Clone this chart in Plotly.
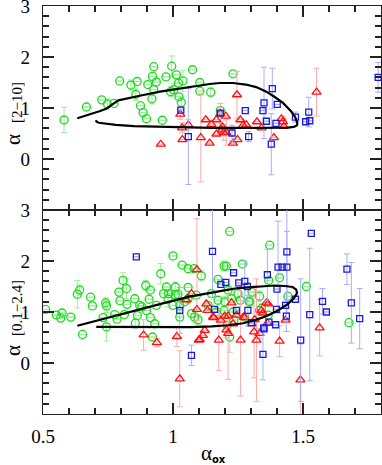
import plotly.graph_objects as go

# ---------------- data: top panel (alpha_[2-10]) ----------------
top_green_x = [0.581, 0.667, 0.726, 0.748, 0.773, 0.795, 0.838, 0.862, 0.857, 0.875, 0.885, 0.898,
               0.903, 0.919, 0.926, 0.936, 0.921, 0.926, 0.959, 0.973, 0.995, 1.013, 0.991, 1.003,
               1.021, 1.023, 1.032, 1.038, 1.075, 1.103, 1.103, 1.145, 1.231, 1.182]
top_green_y = [0.765, 1.02, 1.16, 1.08, 1.09, 1.53, 1.45, 1.52, 1.27, 1.045, 0.91, 0.79,
               1.46, 1.18, 1.36, 1.51, 1.62, 1.81, 0.76, 1.61, 1.82, 1.65, 1.32, 1.36,
               1.49, 1.22, 1.11, 1.53, 1.75, 1.50, 1.33, 1.31, 1.67, 0.95]
top_green_e = [0.25, 0, 0, 0.1, 0, 0, 0.1, 0, 0.12, 0, 0, 0,
               0, 0.1, 0, 0, 0, 0, 0, 0, 0.2, 0, 0.1, 0.12,
               0, 0, 0.1, 0.2, 0, 0, 0, 0.08, 0, 0]

top_red_x = [0.953, 1.028, 1.035, 1.036, 1.059, 1.107, 1.126, 1.141, 1.148, 1.167, 1.167, 1.182,
             1.188, 1.195, 1.203, 1.205, 1.190, 1.231, 1.248, 1.246, 1.259, 1.269, 1.282, 1.323,
             1.341, 1.388, 1.417, 1.423, 1.426, 1.552]
top_red_y = [0.29, 0.88, 0.61, 0.38, 0.67, 0.42, 0.77, 0.31, 0.68, 0.77, 0.49, 0.89,
             0.57, 0.52, 0.84, 0.52, 0.63, 0.31, 0.38, 1.26, 0.77, 0.66, 0.67, 0.73,
             0.61, 0.42, 0.79, 0.73, 0.64, 1.31]
top_red_e = [0, 0.1, 0.1, 0, 0.1, 0.87, 0, 0, 0, 0, 0, 0.2,
             0, 0.15, 0, 0.25, 0, 0, 0, 0.46, 0, 0, 0, 0,
             0, 0, 0, 0.1, 0, 0.47]

top_blue_x = [1.030, 1.059, 1.182, 1.227, 1.278, 1.291, 1.350, 1.346, 1.359, 1.378, 1.382, 1.401,
              1.396, 1.471, 1.510, 1.522, 1.526, 1.789]
top_blue_y = [0.96, 0.44, 0.90, 0.51, 0.95, 0.44, 1.10, 0.95, 0.74, 0.29, 1.38, 1.07,
              0.70, 0.82, 0.73, 0.92, 0.75, 1.60]
top_blue_e = [0, 0.94, 0, 0.15, 0, 0.1, 0.7, 0, 0, 0.6, 0.4, 0,
              0, 0.1, 0, 0.29, 0, 0.29]

top_curve_x = [0.703, 0.706, 0.715, 0.74, 0.78, 0.85, 0.95, 1.05, 1.15, 1.30, 1.40, 1.44, 1.465,
               1.477, 1.478, 1.47, 1.455, 1.423, 1.39, 1.359, 1.32, 1.28, 1.231, 1.18, 1.141,
               1.10, 1.038, 0.95, 0.872, 0.81, 0.79, 0.775, 0.76, 0.745, 0.72, 0.68, 0.632]
top_curve_y = [0.76, 0.73, 0.71, 0.69, 0.67, 0.645, 0.63, 0.62, 0.61, 0.61, 0.61, 0.615, 0.63,
               0.66, 0.72, 0.82, 0.93, 1.10, 1.22, 1.32, 1.41, 1.46, 1.49, 1.49, 1.47,
               1.44, 1.39, 1.32, 1.24, 1.18, 1.15, 1.10, 1.04, 0.99, 0.94, 0.88, 0.80]

# ---------------- data: bottom panel (alpha_[0.1-2.4]) ----------------
bot_green_x = [0.510, 0.551, 0.568, 0.573, 0.607, 0.632, 0.641, 0.652, 0.683, 0.690, 0.731, 0.741,
               0.744, 0.744, 0.776, 0.785, 0.792, 0.796, 0.808, 0.821, 0.823, 0.813, 0.855, 0.853,
               0.863, 0.872, 0.880, 0.895, 0.898, 0.908, 0.913, 0.913, 0.921, 0.930, 0.936, 0.953,
               0.964, 0.975, 0.981, 1.000, 1.035, 1.058, 1.009, 0.983, 1.009, 1.026, 1.000, 1.026,
               1.071, 1.083, 1.045, 1.081, 1.109, 1.196, 1.205, 1.267, 1.173, 1.212, 1.058, 1.019,
               1.058, 1.148, 1.225, 1.096, 1.135, 1.173, 1.199, 1.167, 1.196, 1.209, 1.218, 1.234,
               1.276, 1.295, 1.333, 1.366, 1.218, 1.372, 1.410, 1.513, 1.442, 1.677, 1.250, 1.259,
               1.292, 1.340, 1.231, 1.090, 1.304, 1.333, 1.368]
bot_green_y = [1.05, 0.94, 0.88, 0.98, 0.90, 1.35, 1.43, 0.56, 1.29, 1.12, 0.89, 1.18,
               1.12, 0.71, 0.95, 0.86, 1.39, 1.22, 1.62, 1.46, 1.15, 0.95, 0.78, 1.26,
               0.93, 1.13, 1.10, 1.52, 1.03, 1.25, 1.43, 0.89, 0.51, 0.77, 1.13, 1.75,
               1.36, 1.49, 1.25, 2.10, 1.92, 1.85, 1.49, 1.36, 1.34, 1.13, 1.13, 0.90,
               0.97, 0.90, 1.20, 1.85, 1.71, 1.90, 1.90, 1.94, 1.64, 1.43, 1.48, 1.35,
               1.26, 1.36, 1.26, 0.85, 1.13, 1.23, 1.20, 1.00, 1.03, 0.74, 0.51, 0.84,
               0.90, 1.20, 1.03, 0.94, 2.58, 2.31, 1.67, 1.50, 1.31, 0.79, 1.36, 1.23,
               1.21, 1.07, 1.00, 1.33, 1.39, 1.31, 1.62]
bot_green_e = [0, 0, 0, 0, 0, 0.27, 0.1, 0, 0, 0, 0, 0.1,
               0.1, 0.28, 0, 0, 0, 0, 0.15, 0.2, 0, 0, 0.1, 0,
               0, 0, 0, 0.1, 0, 0, 0, 0, 0, 0, 0, 0.2,
               0, 0, 0.15, 0, 0, 0, 0.1, 0, 0, 0.1, 0, 0,
               0, 0.1, 0, 0, 0.1, 0.1, 0, 0, 0, 0.1, 0, 0,
               0.1, 0, 0, 0.1, 0, 0, 0.1, 0, 0, 0, 0.3, 0,
               0, 0.1, 0, 0, 0, 0, 0, 0, 0, 0, 0.1, 0,
               0, 0.1, 0, 0, 0, 0.1, 0]

bot_red_x = [0.887, 0.938, 1.015, 1.026, 1.051, 1.071, 1.092, 1.092, 1.103, 1.115, 1.122, 1.128,
             1.132, 1.157, 1.176, 1.184, 1.212, 1.205, 1.212, 1.225, 1.231, 1.244, 1.260, 1.276,
             1.312, 1.314, 1.333, 1.340, 1.359, 1.363, 1.366, 1.346, 1.302, 1.410, 1.433, 1.564,
             1.490, 1.099, 1.154, 1.199, 1.272, 1.321]
bot_red_y = [0.55, 0.40, 0.52, -0.31, 1.24, 1.36, 1.83, 1.05, 0.46, 0.54, 0.64, 1.16,
             1.03, 0.89, 0.45, 0.84, 0.92, 0.65, 0.58, 1.18, 0.77, 0.94, 0.45, 0.89,
             0.61, 0.85, 0.58, 1.03, 1.18, 0.78, 1.16, 0.98, 0.77, 0.43, 0.84, 0.69,
             -0.33, 0.45, 0.90, 0.92, 0.90, 0.45]
bot_red_e = [0.3, 0.08, 0.2, 0.55, 0, 0, 1.0, 0, 0, 0, 0, 0,
             0, 0, 0.6, 0, 0, 0.15, 0.9, 0, 0, 0, 1.1, 0,
             0.9, 0, 0.1, 0, 0, 0, 0, 0, 0, 0.3, 0, 0.55,
             0.7, 0, 0, 0, 0, 1.2]

bot_blue_x = [0.859, 1.026, 1.071, 1.152, 1.233, 1.184, 1.203, 1.253, 1.276, 1.286, 1.363, 1.160,
              1.244, 1.288, 1.346, 1.350, 1.302, 1.532, 1.438, 1.404, 1.420, 1.438, 1.669, 1.686,
              1.718, 1.575, 1.590, 1.526, 1.491, 1.398, 1.395, 1.436, 1.433, 1.471, 1.400, 1.349,
              1.369]
bot_blue_y = [2.08, 1.03, 0.15, 2.19, 1.77, 1.54, 1.58, 1.57, 1.60, 1.50, 1.73, 1.05,
              1.03, 1.03, 0.17, 0.67, 0.79, 2.54, 2.18, 1.88, 1.88, 1.88, 1.84, 1.18,
              0.87, 1.21, 1.00, 0.95, 0.45, 1.05, 0.75, 0.92, 1.13, 1.25, 1.45, 0.69,
              0.80]
bot_blue_e = [0, 0.45, 0.2, 0.9, 0, 0, 0, 0, 0.4, 0, 0.5, 0,
              0, 0.3, 0.5, 0, 0, 0, 1.2, 0.9, 0, 0.7, 0.3, 0.79,
              0.59, 0.25, 0, 1.3, 1.2, 0, 0, 0.3, 0, 0, 0, 0,
              0]

bot_curve_x = [0.705, 0.85, 0.968, 1.064, 1.15, 1.21, 1.27, 1.321, 1.36, 1.40, 1.44, 1.465, 1.477,
               1.474, 1.46, 1.43, 1.39, 1.32, 1.25, 1.192, 1.12, 1.064, 0.968, 0.88, 0.80, 0.72,
               0.632]
bot_curve_y = [0.71, 0.705, 0.70, 0.705, 0.72, 0.74, 0.78, 0.85, 0.92, 1.02, 1.15, 1.27, 1.37,
               1.44, 1.49, 1.51, 1.52, 1.50, 1.47, 1.42, 1.36, 1.30, 1.18, 1.06, 0.95, 0.84,
               0.73]

x_range = [0.5, 1.8]
y_range = [-1, 3]
y_tickvals = [0, 1, 2, 3]

# ---------------- styles ----------------
GREEN, GREEN_E = "#19dd19", "#9bee9b"
RED, RED_E = "#ff1010", "#ffaaaa"
BLUE, BLUE_E = "#1a1ae0", "#a9aefc"
SERIF = "Liberation Serif"
TICKC = "#222222"


def errs(e):
    return [v if v > 0 else None for v in e]


def scatter(x, y, e, symbol, size, color, ecolor, xa, ya):
    return go.Scatter(
        x=x, y=y, mode="markers", xaxis=xa, yaxis=ya, showlegend=False,
        marker=dict(symbol=symbol, size=size, color=color, line=dict(color=color, width=1.3)),
        error_y=dict(type="data", array=errs(e), color=ecolor, thickness=1, width=3),
    )


def curve(x, y, xa, ya):
    return go.Scatter(x=x, y=y, mode="lines", xaxis=xa, yaxis=ya, showlegend=False,
                      line=dict(color="black", width=2.2))


fig = go.Figure()
for xa, ya, gx, gy, ge, rx, ry, re_, bx, by, be, cx, cy in [
    ("x", "y", top_green_x, top_green_y, top_green_e, top_red_x, top_red_y, top_red_e,
     top_blue_x, top_blue_y, top_blue_e, top_curve_x, top_curve_y),
    ("x2", "y2", bot_green_x, bot_green_y, bot_green_e, bot_red_x, bot_red_y, bot_red_e,
     bot_blue_x, bot_blue_y, bot_blue_e, bot_curve_x, bot_curve_y),
]:
    fig.add_trace(scatter(gx, gy, ge, "circle-open", 8, GREEN, GREEN_E, xa, ya))
    fig.add_trace(scatter(rx, ry, re_, "triangle-up-open", 8, RED, RED_E, xa, ya))
    fig.add_trace(scatter(bx, by, be, "square-open", 6, BLUE, BLUE_E, xa, ya))
    fig.add_trace(curve(cx, cy, xa, ya))

axis_common = dict(
    showline=True, linecolor="#222", linewidth=1.3, mirror="allticks",
    ticks="inside", ticklen=11, tickwidth=1.5, tickcolor=TICKC,
    showgrid=False, zeroline=False, ticklabeloverflow="allow",
    tickfont=dict(family=SERIF, size=19, color="black"),
)
xminor = dict(dtick=0.1, tick0=0.5, ticklen=6, ticks="inside", tickcolor=TICKC, tickwidth=1.5,
              showgrid=False)
yminor = dict(dtick=0.2, tick0=0, ticklen=6, ticks="inside", tickcolor=TICKC, tickwidth=1.5,
              showgrid=False)

ann_font_big = dict(family=SERIF, size=21, color="black")
ann_font_sub = dict(family=SERIF, size=15, color="black")


def ann(text, px, py, font, angle=0):
    # position given in page pixels; converted to paper coordinates of the 43..381 x 6..414 plot box
    return dict(text=text, xref="paper", yref="paper", x=(px - 43) / 338, y=(414 - py) / 408,
                xanchor="center", yanchor="middle", showarrow=False, textangle=angle, font=font)


fig.update_layout(
    template="none",
    width=382, height=465,
    margin=dict(l=43, r=1, t=6, b=51),
    paper_bgcolor="white", plot_bgcolor="white",
    xaxis=dict(domain=[0, 1], anchor="y", range=x_range, tickmode="linear", tick0=0.5, dtick=0.5,
               showticklabels=False, matches="x2", minor=xminor, **axis_common),
    yaxis=dict(domain=[0.5, 1], anchor="x", range=y_range, tickmode="array", tickvals=y_tickvals,
               minor=yminor, ticklabelstandoff=8, **axis_common),
    xaxis2=dict(domain=[0, 1], anchor="y2", range=x_range, tickmode="linear", tick0=0.5, dtick=0.5,
                minor=xminor, ticklabelstandoff=5, **axis_common),
    yaxis2=dict(domain=[0, 0.5], anchor="x2", range=y_range, tickmode="array", tickvals=y_tickvals,
                minor=yminor, ticklabelstandoff=8, **axis_common),
    annotations=[
        ann("α", 13, 140, ann_font_big, -90),
        ann("[2−10]", 17, 103, ann_font_sub, -90),
        ann("α", 13, 351, ann_font_big, -90),
        ann("[0.1−2.4]", 17, 308, ann_font_sub, -90),
        ann("α", 206, 453, dict(family=SERIF, size=21, color="black")),
        ann("<b>ox</b>", 219, 459, dict(family="DejaVu Sans", size=10, color="black")),
    ],
)

fig.write_html("out.html", config={"displayModeBar": False},
               post_script="document.body.style.margin='0';")
